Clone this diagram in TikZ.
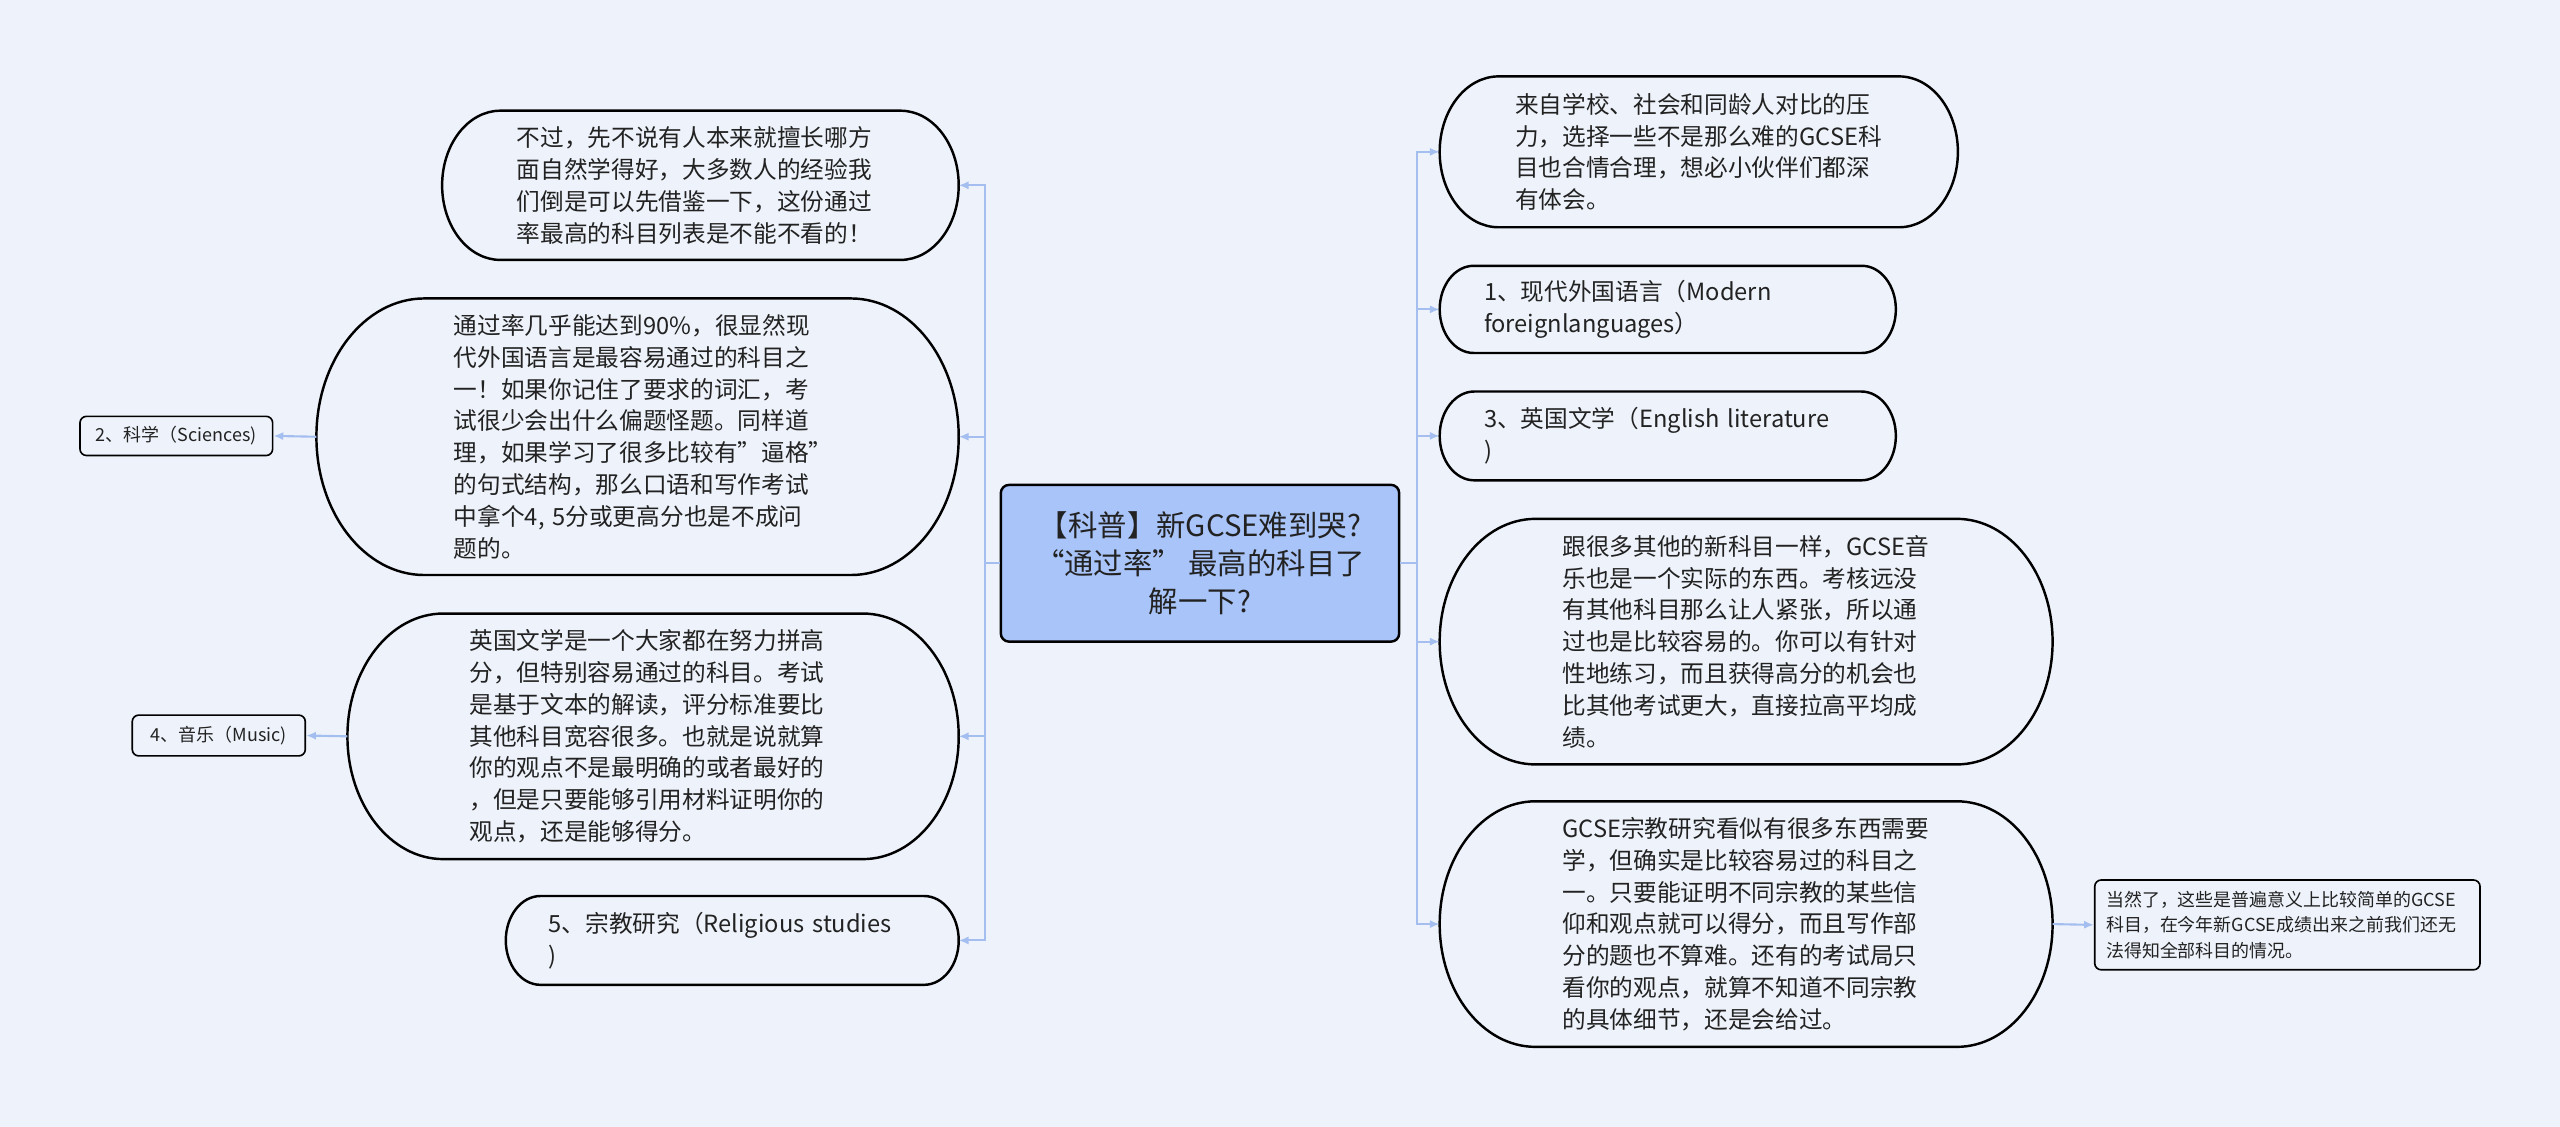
\documentclass[tikz,border=0pt]{standalone}
\usepackage{fontspec}
\setmainfont{Noto Sans CJK SC}
\usetikzlibrary{arrows.meta,calc}
\definecolor{bgc}{RGB}{238,243,251}
\definecolor{linkc}{RGB}{164,190,240}
\definecolor{rootc}{RGB}{169,196,248}
\definecolor{txtc}{RGB}{34,34,34}
\tikzset{
  pill/.style={draw=black, line width=1.5pt},
  pilltext/.style={text=txtc, align=left, text width=225pt, inner sep=0pt,
    font=\fontsize{14.5pt}{19.5pt}\selectfont},
  tag/.style={draw=black, line width=1pt, rounded corners=4pt, text=txtc,
    inner xsep=7pt, inner ysep=0pt, font=\fontsize{11pt}{15.5pt}\selectfont},
  rootbox/.style={draw=black, line width=1.5pt, rounded corners=5pt, fill=rootc,
    text=txtc, align=center, inner sep=0pt,
    font=\fontsize{18pt}{23pt}\selectfont},
  link/.style={draw=linkc, line width=1.3pt, -{Latex[length=6pt,width=5pt]}}
}
\begin{document}
\begin{tikzpicture}[x=1pt, y=-1pt]
  \fill[bgc] (0,0) rectangle (1568,690);
  \useasboundingbox (0,0) rectangle (1568,690);
  % centre
  \node[rootbox, minimum width=244pt, minimum height=96pt] (root) at (735,345)
    {【科普】新GCSE难到哭?\\“通过率” 最高的科目了\\解一下?};
  % left side
  \node[pilltext, minimum width=316pt, minimum height=91pt] (l1) at (429,113.5)
    {不过，先不说有人本来就擅长哪方\\面自然学得好，大多数人的经验我\\们倒是可以先借鉴一下，这份通过\\率最高的科目列表是不能不看的！};
  \node[pilltext, minimum width=393pt, minimum height=169pt] (l2) at (390.5,267.5)
    {通过率几乎能达到90\%，很显然现\\代外国语言是最容易通过的科目之\\一！如果你记住了要求的词汇，考\\试很少会出什么偏题怪题。同样道\\理，如果学习了很多比较有\symbol{34}逼格\symbol{34}\\的句式结构，那么口语和写作考试\\中拿个4, 5分或更高分也是不成问\\题的。};
  \node[pilltext, minimum width=374pt, minimum height=150pt] (l3) at (400,451)
    {英国文学是一个大家都在努力拼高\\分，但特别容易通过的科目。考试\\是基于文本的解读，评分标准要比\\其他科目宽容很多。也就是说就算\\你的观点不是最明确的或者最好的\\，但是只要能够引用材料证明你的\\观点，还是能够得分。};
  \node[pilltext, minimum width=277pt, minimum height=54pt] (l4) at (448.5,576)
    {5、宗教研究（Religious studies\\)};
  \node[tag, minimum width=118pt, minimum height=24pt] (sci) at (108,267)
    {2、科学（Sciences)};
  \node[tag, minimum width=106pt, minimum height=25pt] (music) at (134,450.5)
    {4、音乐（Music)};
  % right side
  \node[pilltext, minimum width=317pt, minimum height=92pt] (r1) at (1040.5,93)
    {来自学校、社会和同龄人对比的压\\力，选择一些不是那么难的GCSE科\\目也合情合理，想必小伙伴们都深\\有体会。};
  \node[pilltext, minimum width=279pt, minimum height=53pt] (r2) at (1021.5,189.5)
    {1、现代外国语言（Modern\\foreignlanguages）};
  \node[pilltext, minimum width=279pt, minimum height=54pt] (r3) at (1021.5,267)
    {3、英国文学（English literature\\)};
  \node[pilltext, minimum width=375pt, minimum height=150pt] (r4) at (1069.5,393)
    {跟很多其他的新科目一样，GCSE音\\乐也是一个实际的东西。考核远没\\有其他科目那么让人紧张，所以通\\过也是比较容易的。你可以有针对\\性地练习，而且获得高分的机会也\\比其他考试更大，直接拉高平均成\\绩。};
  \node[pilltext, minimum width=375pt, minimum height=150pt] (r5) at (1069.5,566)
    {GCSE宗教研究看似有很多东西需要\\学，但确实是比较容易过的科目之\\一。只要能证明不同宗教的某些信\\仰和观点就可以得分，而且写作部\\分的题也不算难。还有的考试局只\\看你的观点，就算不知道不同宗教\\的具体细节，还是会给过。};
  \node[tag, text width=222pt, align=left, minimum height=55pt] (note) at (1401,566.5)
    {当然了，这些是普遍意义上比较简单的GCSE\\科目，在今年新GCSE成绩出来之前我们还无\\法得知全部科目的情况。};
  % pill outlines
  \foreach \nd in {l1,l2,l3,l4,r1,r2,r3,r4,r5}
    \draw[pill] let \p1=(\nd.north west), \p2=(\nd.south east),
      \n1={(\y1-\y2)/2}, \n2={0.78*\n1} in
      (\x1+\n2,\y1) -- (\x2-\n2,\y1)
      arc[start angle=90, end angle=-90, x radius=\n2*1pt, y radius=\n1*1pt]
      -- (\x1+\n2,\y2)
      arc[start angle=270, end angle=90, x radius=\n2*1pt, y radius=\n1*1pt]
      -- cycle;
  % connectors
  \foreach \c in {l1,l2,l3,l4}
    \draw[link] (root.west) -- ++(-9,0) |- (\c.east);
  \foreach \c in {r1,r2,r3,r4,r5}
    \draw[link] (root.east) -- ++(10,0) |- (\c.west);
  \draw[link] (l2.west) -- (sci.east);
  \draw[link] (l3.west) -- (music.east);
  \draw[link] (r5.east) -- (note.west);
\end{tikzpicture}
\end{document}
